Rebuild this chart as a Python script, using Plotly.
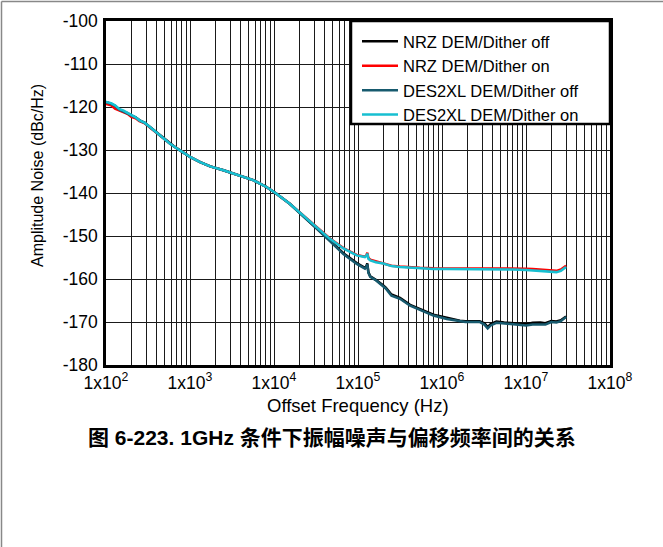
import plotly.graph_objects as go

# Offset frequency (Hz) sample points
freq_hz = [
    100, 115, 128, 145, 160, 180, 200, 225, 250, 290, 330, 380, 435, 500,
    575, 660, 760, 870, 1000, 1320, 1740, 2500, 3940, 5650, 8130, 10600,
    15400, 22300, 32000, 46000, 67000, 96600, 121000, 126000, 129000,
    133000, 140000, 163000, 200000, 214000, 250000, 316000, 417000,
    545000, 790000, 1140000, 1630000, 1900000, 2800000, 3200000, 3500000,
    3800000, 4450000, 5500000, 7000000, 10000000, 12000000, 14800000,
    17000000, 20000000, 23000000, 26000000, 30000000,
]

# Amplitude noise (dBc/Hz)
nrz_dither_off = [
    -118.9, -119.2, -119.8, -120.7, -121.0, -121.4, -122.0, -122.4, -123.1,
    -123.7, -124.6, -125.6, -126.5, -127.5, -128.5, -129.3, -130.1, -130.9,
    -131.6, -132.8, -133.8, -134.7, -135.9, -137.0, -138.6, -140.1, -142.5,
    -145.3, -148.1, -151.0, -154.0, -156.3, -157.4, -157.0, -156.4, -158.4,
    -159.4, -160.2, -161.5, -162.0, -163.6, -164.4, -166.0, -167.0, -168.3,
    -169.0, -169.7, -169.8, -169.8, -170.3, -171.2, -170.5, -169.9, -170.1,
    -170.2, -170.5, -170.2, -170.1, -170.3, -169.8, -169.9, -169.6, -168.7,
]
nrz_dither_on = [
    -119.3, -119.6, -120.4, -120.9, -121.2, -121.6, -122.3, -122.6, -123.3,
    -123.8, -124.7, -125.6, -126.6, -127.5, -128.5, -129.3, -130.1, -130.9,
    -131.6, -132.8, -133.8, -134.7, -135.9, -137.0, -138.6, -140.1, -142.5,
    -145.2, -147.9, -150.5, -152.8, -154.4, -154.8, -154.5, -153.9, -155.1,
    -155.5, -155.9, -156.3, -156.5, -156.9, -157.1, -157.3, -157.4, -157.5,
    -157.5, -157.5, -157.5, -157.5, -157.5, -157.5, -157.5, -157.5, -157.5,
    -157.5, -157.6, -157.7, -157.8, -157.9, -158.1, -158.1, -157.8, -156.9,
]
des2xl_dither_off = [
    -118.8, -119.3, -119.7, -120.6, -121.0, -121.4, -121.9, -122.4, -123.1,
    -123.7, -124.6, -125.6, -126.6, -127.6, -128.5, -129.3, -130.1, -130.9,
    -131.6, -132.8, -133.8, -134.7, -135.9, -137.0, -138.6, -140.1, -142.5,
    -145.3, -148.2, -151.1, -154.2, -156.5, -157.6, -157.2, -156.6, -158.6,
    -159.5, -160.3, -161.7, -162.2, -163.9, -164.6, -166.2, -167.2, -168.5,
    -169.3, -169.9, -170.0, -170.0, -170.6, -171.5, -170.8, -170.2, -170.4,
    -170.5, -170.8, -170.6, -170.5, -170.6, -170.0, -170.1, -169.8, -168.8,
]
des2xl_dither_on = [
    -118.8, -119.1, -119.6, -120.5, -120.8, -121.3, -121.9, -122.4, -123.1,
    -123.7, -124.6, -125.6, -126.6, -127.6, -128.5, -129.3, -130.1, -130.9,
    -131.6, -132.8, -133.8, -134.7, -135.9, -137.0, -138.6, -140.1, -142.5,
    -145.2, -147.9, -150.6, -152.9, -154.5, -154.9, -154.6, -154.1, -155.3,
    -155.7, -156.1, -156.4, -156.6, -157.0, -157.2, -157.4, -157.6, -157.7,
    -157.7, -157.7, -157.7, -157.7, -157.7, -157.7, -157.7, -157.7, -157.7,
    -157.8, -157.9, -158.0, -158.1, -158.2, -158.4, -158.4, -158.1, -157.2,
]

series_names = [
    "NRZ DEM/Dither off",
    "NRZ DEM/Dither on",
    "DES2XL DEM/Dither off",
    "DES2XL DEM/Dither on",
]
series_colors = ["#000000", "#ff0000", "#175a6e", "#17bfd1"]

x_tick_vals = [1e2, 1e3, 1e4, 1e5, 1e6, 1e7, 1e8]
x_tick_text = [
    "1x10<sup>2</sup>", "1x10<sup>3</sup>", "1x10<sup>4</sup>",
    "1x10<sup>5</sup>", "1x10<sup>6</sup>", "1x10<sup>7</sup>",
    "1x10<sup>8</sup>",
]
y_tick_vals = [-100, -110, -120, -130, -140, -150, -160, -170, -180]
y_tick_text = ["-100", "-110", "-120", "-130", "-140", "-150", "-160",
               "-170", "-180"]

# minor grid at 2..9 of each decade
minor_vals = [m * d for d in x_tick_vals[:-1] for m in range(2, 10)]

W, H = 663, 547
ML, MR, MT, MB = 106, 53, 21, 182
FONT = "Liberation Sans, Arial, sans-serif"

fig = go.Figure()
for name, vals, color in zip(
    series_names,
    [nrz_dither_off, nrz_dither_on, des2xl_dither_off, des2xl_dither_on],
    series_colors,
):
    fig.add_trace(
        go.Scatter(
            x=freq_hz,
            y=vals,
            mode="lines",
            name=name,
            line=dict(color=color, width=2.5),
        )
    )

pw = W - ML - MR
ph = H - MT - MB


def px_x(px):
    return (px - ML) / pw


def px_y(py):
    return 1 - (py - MT) / ph


fig.update_layout(
    width=W,
    height=H,
    margin=dict(l=ML, r=MR, t=MT, b=MB),
    plot_bgcolor="white",
    paper_bgcolor="white",
    font=dict(family=FONT, size=17, color="black"),
    showlegend=True,
    legend=dict(
        x=px_x(357), xanchor="left", y=px_y(24), yanchor="top",
        bgcolor="rgba(0,0,0,0)",
        borderwidth=0,
        font=dict(size=16.5),
        itemwidth=36,
        tracegroupgap=0,
    ),
    shapes=[
        # legend frame
        dict(type="rect", xref="paper", yref="paper",
             x0=px_x(351), x1=1, y0=px_y(124), y1=1,
             fillcolor="white", line=dict(color="black", width=2.5),
             layer="above"),
        # outer page frame (top and left edges)
        dict(type="line", xref="paper", yref="paper",
             x0=px_x(1.5), x1=px_x(W), y0=px_y(1.5), y1=px_y(1.5),
             line=dict(color="#888888", width=1.5)),
        dict(type="line", xref="paper", yref="paper",
             x0=px_x(1.5), x1=px_x(1.5), y0=px_y(1.5), y1=px_y(H),
             line=dict(color="#888888", width=1.5)),
    ],
    annotations=[
        dict(text="Amplitude Noise (dBc/Hz)", xref="paper", yref="paper",
             x=px_x(37), y=px_y(176), textangle=-90, showarrow=False,
             xanchor="center", yanchor="middle", font=dict(size=16)),
        dict(text="Offset Frequency (Hz)", xref="paper", yref="paper",
             x=px_x(358), y=px_y(405), showarrow=False,
             xanchor="center", yanchor="middle", font=dict(size=18.5)),
        dict(text="<b>图 6-223. 1GHz 条件下振幅噪声与偏移频率间的关系</b>",
             xref="paper", yref="paper", x=px_x(332), y=px_y(437),
             showarrow=False, xanchor="center", yanchor="middle",
             font=dict(size=21, family="Liberation Sans, Noto Sans CJK SC")),
    ],
)

fig.update_xaxes(
    type="log",
    range=[2, 8],
    tickvals=x_tick_vals,
    ticktext=x_tick_text,
    ticks="", tickfont=dict(size=17.5),
    showgrid=True, gridcolor="#1a1a1a", gridwidth=1,
    minor=dict(tickvals=minor_vals, showgrid=True, gridcolor="#1a1a1a",
               gridwidth=1, ticks=""),
    showline=True, linecolor="black", linewidth=2.5, mirror=True,
    zeroline=False,
)
fig.update_yaxes(
    range=[-180, -100],
    tickvals=y_tick_vals,
    ticktext=y_tick_text,
    ticks="outside", ticklen=2, tickcolor="rgba(0,0,0,0)",
    tickfont=dict(size=17.5),
    showgrid=True, gridcolor="#1a1a1a", gridwidth=1,
    showline=True, linecolor="black", linewidth=2.5, mirror=True,
    zeroline=False,
)

# drop the browser's default 8px body margin so the figure sits at (0, 0)
fig.write_html(
    "out.html",
    config={"displayModeBar": False},
    post_script="document.body.style.margin='0';",
)
